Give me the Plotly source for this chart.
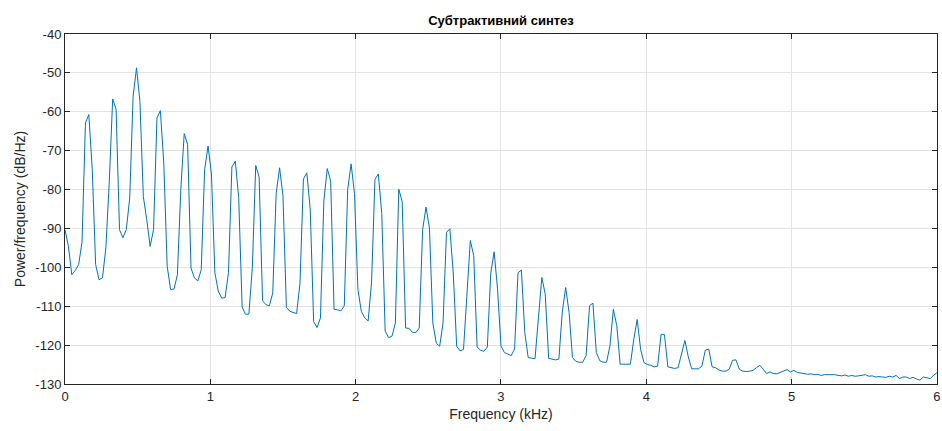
import numpy as np
import plotly.graph_objects as go

# Frequency grid: 257 bins from 0 to 6 kHz
n_bins = 257
f_max_khz = 6.0

# PSD values (dB/Hz), bin by bin
psd_start = [-90.3, -94.6, -101.9, -100.8]

harm_01_05 = [
    [-99.3, -93.5, -62.9, -60.7, -74.9, -99.3, -103.2],
    [-102.7, -95.0, -78.0, -56.7, -59.3, -90.3, -92.4],
    [-90.3, -82.2, -56.0, -48.7, -57.3, -81.8, -87.7],
    [-94.6, -90.3, -61.6, -59.7, -73.2, -99.7, -105.7],
    [-105.6, -101.9, -80.0, -65.6, -68.4, -100.2, -102.7],
]
harm_06_10 = [
    [-103.5, -100.6, -74.9, -68.8, -76.0, -101.4, -106.1],
    [-107.9, -107.8, -101.3, -74.2, -72.7, -82.0, -110.2],
    [-112.1, -112.0, -100.0, -73.8, -76.8, -108.6, -109.6],
    [-109.9, -106.6, -81.0, -74.4, -81.6, -110.3, -111.3],
    [-111.7, -111.9, -104.0, -77.3, -75.7, -85.0, -113.9],
]
harm_11_15 = [
    [-115.5, -113.0, -82.9, -74.6, -77.8, -110.8, -110.9],
    [-111.2, -109.9, -80.0, -73.4, -81.0, -105.7, -111.3],
    [-113.0, -113.8, -104.0, -77.4, -76.0, -86.1, -116.4],
    [-118.1, -117.7, -114.3, -79.9, -83.1, -115.6, -115.7],
    [-116.7, -116.8, -115.6, -90.3, -84.5, -89.9, -114.3],
]
harm_16_20 = [
    [-119.5, -120.3, -114.3, -91.0, -90.1, -101.5, -120.3],
    [-121.5, -121.1, -107.0, -93.1, -97.0, -120.5, -121.3],
    [-121.6, -120.5, -101.5, -96.0, -105.6, -120.2, -121.9],
    [-122.3, -122.7, -121.0, -101.4, -100.7, -116.8, -123.2],
    [-123.3, -123.5, -113.0, -102.6, -106.9, -123.4, -123.6],
]
harm_21_25 = [
    [-123.8, -123.6, -111.5, -105.2, -111.6, -123.2, -124.2],
    [-124.4, -124.4, -122.7, -109.9, -109.2, -121.9, -124.0],
    [-124.4, -124.4, -120.2, -110.8, -115.0, -124.9, -124.9],
    [-125.0, -124.9, -118.5, -113.4, -121.1, -124.5, -125.0],
    [-125.2, -125.6, -125.4, -117.3, -117.3, -125.6, -125.8],
]
harm_26_29 = [
    [-126.0, -125.8, -122.0, -118.8, -123.0, -126.1, -126.1],
    [-126.1, -125.4, -121.3, -121.0, -125.6, -125.8, -126.4],
    [-126.7, -126.7, -126.2, -123.9, -123.8, -126.2, -126.7],
    [-126.8, -126.7, -126.5, -125.8, -125.2, -126.2, -127.3],
]
psd_tail = [
    -126.9, -127.3, -127.4, -127.1, -126.7, -126.3, -126.9, -126.5, -127.0, -127.2,
    -127.3, -127.5, -127.4, -127.6, -127.5, -127.8, -127.6, -127.6, -127.7, -127.6,
    -127.8, -127.9, -127.7, -128.0, -127.8, -128.0, -127.9, -127.8, -127.6, -128.0,
    -127.9, -128.2, -128.1, -128.2, -128.3, -128.0, -128.2, -127.8, -128.6, -128.2,
    -128.2, -128.6, -128.3, -128.7, -129.0, -128.2, -128.4, -128.6, -127.8, -127.1,
]

x_ticks = [0, 1, 2, 3, 4, 5, 6]
y_ticks = [-130, -120, -110, -100, -90, -80, -70, -60, -50, -40]

title_text = "Субтрактивний синтез"
x_label = "Frequency (kHz)"
y_label = "Power/frequency (dB/Hz)"

# Assemble
psd = list(psd_start)
for groups in (harm_01_05, harm_06_10, harm_11_15, harm_16_20, harm_21_25, harm_26_29):
    for g in groups:
        psd.extend(g)
psd.extend(psd_tail)
freq_khz = np.arange(len(psd)) * f_max_khz / (n_bins - 1)

axis_col = "#262626"
grid_col = "#e3e3e3"
font_fam = "Liberation Sans, Arial, sans-serif"

fig = go.Figure()
fig.add_trace(go.Scatter(
    x=freq_khz, y=psd, mode="lines",
    line=dict(color="#0072BD", width=1),
    hoverinfo="skip", showlegend=False,
))

fig.update_layout(
    width=942, height=431,
    margin=dict(l=65, r=5, t=34, b=47),
    paper_bgcolor="white", plot_bgcolor="white",
    title=dict(text="<b>" + title_text + "</b>", x=0.5, xref="paper", xanchor="center",
               y=1 - 20 / 431, yref="container", yanchor="middle",
               font=dict(family=font_fam, size=13, color="#000000")),
)
fig.update_xaxes(
    range=[0, 6.0005], tickvals=x_ticks, ticktext=[str(v) for v in x_ticks],
    showgrid=True, gridcolor=grid_col, gridwidth=1, zeroline=False,
    showline=True, linecolor=axis_col, linewidth=1, mirror="ticks",
    ticks="inside", ticklen=5, tickcolor=axis_col,
    ticklabeloverflow="allow", automargin=False,
    tickfont=dict(family=font_fam, size=13, color=axis_col),
    title=dict(text=x_label, font=dict(family=font_fam, size=14, color=axis_col), standoff=6),
)
fig.update_yaxes(
    range=[-130, -40], tickvals=y_ticks, ticktext=[str(v) for v in y_ticks],
    showgrid=True, gridcolor=grid_col, gridwidth=1, zeroline=False,
    showline=True, linecolor=axis_col, linewidth=1, mirror="ticks",
    ticks="inside", ticklen=5, tickcolor=axis_col,
    tickfont=dict(family=font_fam, size=13, color=axis_col),
    title=dict(text=y_label, font=dict(family=font_fam, size=14, color=axis_col), standoff=6),
)

fig.write_html("out.html")
